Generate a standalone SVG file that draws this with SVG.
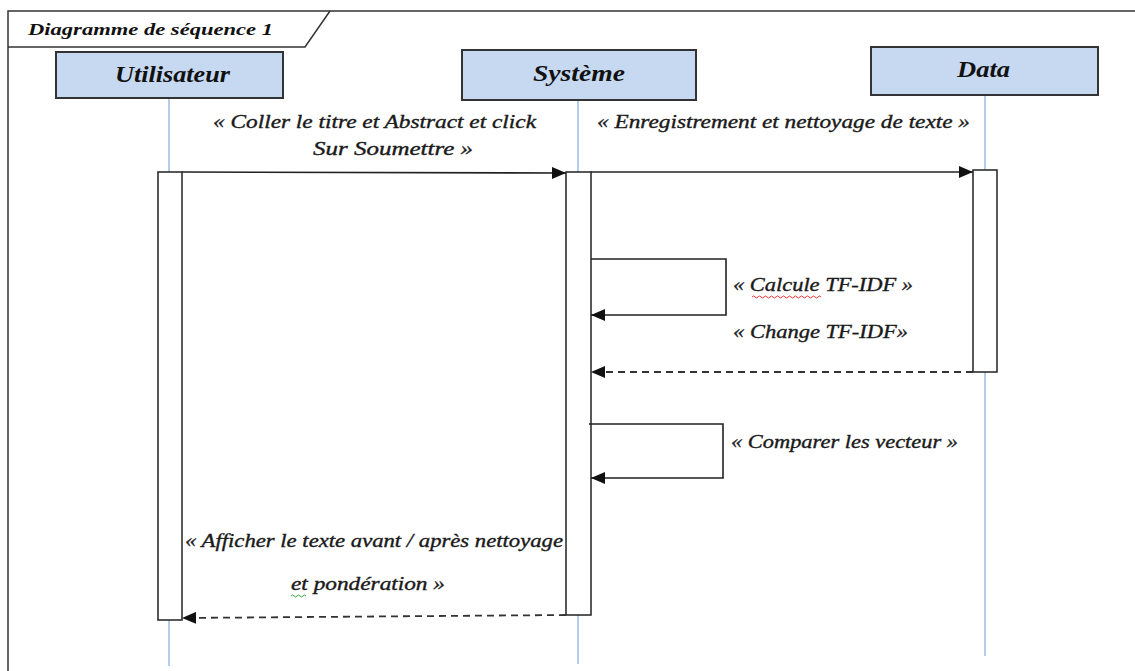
<svg xmlns="http://www.w3.org/2000/svg" width="1135" height="671" viewBox="0 0 1135 671">
  <style>
    .frame { fill: none; stroke: #333; stroke-width: 1.5; }
    .head { fill: #c6d9f1; stroke: #333; stroke-width: 2; }
    .lifeline { stroke: #9dbbe3; stroke-width: 1.5; fill: none; }
    .act { fill: #fff; stroke: #222; stroke-width: 1.5; }
    .msg { fill: none; stroke: #222; stroke-width: 1.6; }
    .ret { fill: none; stroke: #333; stroke-width: 1.8; stroke-dasharray: 7 5; }
    .title { font-family: "Liberation Serif", "DejaVu Serif", serif; font-style: italic; font-weight: bold; font-size: 24px; fill: #111; }
    .label { font-family: "Liberation Serif", "DejaVu Serif", serif; font-style: italic; font-size: 18px; fill: #1a1a1a; stroke: #1a1a1a; stroke-width: 0.35; }
    .frametitle { font-family: "Liberation Serif", "DejaVu Serif", serif; font-style: italic; font-weight: bold; font-size: 16px; fill: #111; }
  </style>
  <defs>
    <marker id="arrow" viewBox="0 0 14 12" refX="14" refY="6" markerWidth="14" markerHeight="12" markerUnits="userSpaceOnUse" orient="auto">
      <path d="M0,0 L14,6 L0,12 Z" fill="#111"/>
    </marker>
  </defs>

  <rect width="1135" height="671" fill="#fff"/>

  <!-- frame -->
  <g id="frame">
    <path class="frame" d="M1135,11 L8,11 L8,671"/>
    <path class="frame" d="M8,47 L305,47 L330,11"/>
    <text class="frametitle" x="28" y="35" textLength="245" lengthAdjust="spacingAndGlyphs">Diagramme de séquence 1</text>
  </g>

  <!-- lifelines -->
  <g id="utilisateur">
    <line class="lifeline" x1="169" y1="98" x2="169" y2="666"/>
    <rect class="head" x="56" y="52" width="227" height="46"/>
    <text class="title" x="115" y="82" textLength="115" lengthAdjust="spacingAndGlyphs">Utilisateur</text>
    <rect class="act" x="158" y="172" width="24" height="448"/>
  </g>

  <g id="systeme">
    <line class="lifeline" x1="578" y1="100" x2="578" y2="664"/>
    <rect class="head" x="462" y="50" width="234" height="50"/>
    <text class="title" x="533" y="81" textLength="92" lengthAdjust="spacingAndGlyphs">Système</text>
    <rect class="act" x="566" y="172" width="25" height="443"/>
  </g>

  <g id="data">
    <line class="lifeline" x1="985" y1="95" x2="985" y2="656"/>
    <rect class="head" x="871" y="47" width="227" height="48"/>
    <text class="title" x="957" y="77" textLength="53" lengthAdjust="spacingAndGlyphs">Data</text>
    <rect class="act" x="973" y="170" width="24" height="202"/>
  </g>

  <!-- connectors -->
  <g id="connectors">
    <line class="msg" x1="182" y1="172" x2="566" y2="173" marker-end="url(#arrow)"/>
    <line class="msg" x1="591" y1="172" x2="973" y2="172" marker-end="url(#arrow)"/>
    <polyline class="msg" points="591,259 726,259 726,315 591,315" marker-end="url(#arrow)"/>
    <line class="ret" x1="973" y1="372" x2="591" y2="372" marker-end="url(#arrow)"/>
    <polyline class="msg" points="589,424 723,424 723,478 591,478" marker-end="url(#arrow)"/>
    <line class="ret" x1="566" y1="615" x2="182" y2="618" marker-end="url(#arrow)"/>
  </g>

  <!-- message labels -->
  <g id="labels">
    <text class="label" x="213" y="128" textLength="323" lengthAdjust="spacingAndGlyphs">« Coller le titre et Abstract et click</text>
    <text class="label" x="313" y="155" textLength="160" lengthAdjust="spacingAndGlyphs">Sur Soumettre »</text>
    <text class="label" x="597" y="128" textLength="373" lengthAdjust="spacingAndGlyphs">« Enregistrement et nettoyage de texte »</text>
    <text class="label" x="733" y="291" textLength="180" lengthAdjust="spacingAndGlyphs">« Calcule TF-IDF »</text>
    <path d="M752,297 q1.5,-2 3,0 t3,0 t3,0 t3,0 t3,0 t3,0 t3,0 t3,0 t3,0 t3,0 t3,0 t3,0 t3,0 t3,0 t3,0 t3,0 t3,0 t3,0 t3,0 t3,0 t3,0 t3,0 t3,0" fill="none" stroke="#e33" stroke-width="1"/>
    <text class="label" x="733" y="338" textLength="175" lengthAdjust="spacingAndGlyphs">« Change TF-IDF»</text>
    <text class="label" x="731" y="448" textLength="227" lengthAdjust="spacingAndGlyphs">« Comparer les vecteur »</text>
    <text class="label" x="185" y="547" textLength="378" lengthAdjust="spacingAndGlyphs">« Afficher le texte avant / après nettoyage</text>
    <text class="label" x="291" y="590" textLength="154" lengthAdjust="spacingAndGlyphs">et pondération »</text>
    <path d="M291,596 q1.5,-2 3,0 t3,0 t3,0 t3,0 t3,0" fill="none" stroke="#3a3" stroke-width="1"/>
  </g>
</svg>
